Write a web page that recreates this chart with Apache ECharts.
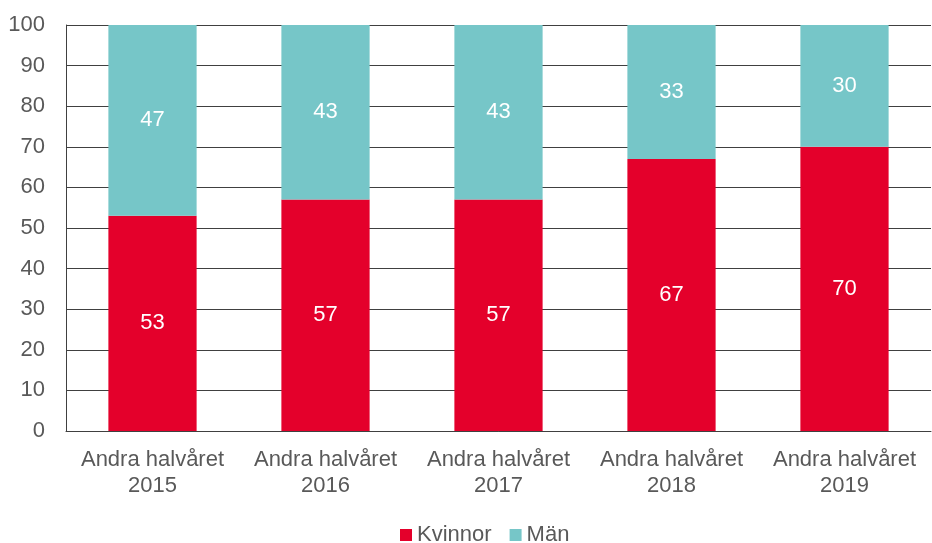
<!DOCTYPE html>
<html>
<head>
<meta charset="utf-8">
<script src="https://cdn.jsdelivr.net/npm/echarts@6/dist/echarts.min.js"></script>
<style>
  html, body { margin: 0; padding: 0; background: #fff; }
  #chart { width: 932px; height: 543px; }
</style>
</head>
<body>
<div id="chart"></div>
<script>
// kategorier och andelar (procent)
const categories = [
  'Andra halvåret\n2015',
  'Andra halvåret\n2016',
  'Andra halvåret\n2017',
  'Andra halvåret\n2018',
  'Andra halvåret\n2019'
]
const kvinnor = [53, 57, 57, 67, 70]
const man = [47, 43, 43, 33, 30]

const textColor = '#595959'
const font = 'Liberation Sans, Arial, sans-serif'

const chart = echarts.init(document.getElementById('chart'), null, { renderer: 'canvas' })

chart.setOption({
  animation: false,
  grid: { left: 66, right: 1, top: 25, bottom: 112 },
  legend: {
    bottom: -8,
    left: 395,
    itemWidth: 12,
    itemHeight: 12,
    itemGap: 18,
    icon: 'rect',
    textStyle: { color: textColor, fontSize: 22, fontFamily: font },
    data: ['Kvinnor', 'Män']
  },
  xAxis: {
    type: 'category',
    data: categories,
    axisLine: { lineStyle: { color: '#404040', width: 1 } },
    axisTick: { show: false },
    axisLabel: {
      interval: 0,
      color: textColor,
      fontSize: 22,
      fontFamily: font,
      lineHeight: 26,
      margin: 16
    }
  },
  yAxis: {
    type: 'value',
    min: 0,
    max: 100,
    interval: 10,
    axisLine: { show: true, lineStyle: { color: '#404040', width: 1 } },
    axisTick: { show: false },
    splitLine: { lineStyle: { color: '#404040', width: 1 } },
    axisLabel: { color: textColor, fontSize: 22, fontFamily: font, margin: 21 }
  },
  series: [
    {
      name: 'Kvinnor',
      type: 'bar',
      stack: 'total',
      barWidth: '51%',
      itemStyle: { color: '#E4002B' },
      label: { show: true, position: 'inside', color: '#fff', fontSize: 22, fontFamily: font },
      data: kvinnor
    },
    {
      name: 'Män',
      type: 'bar',
      stack: 'total',
      barWidth: '51%',
      itemStyle: { color: '#76C6C8' },
      label: { show: true, position: 'inside', color: '#fff', fontSize: 22, fontFamily: font },
      data: man
    }
  ]
})
</script>
</body>
</html>
